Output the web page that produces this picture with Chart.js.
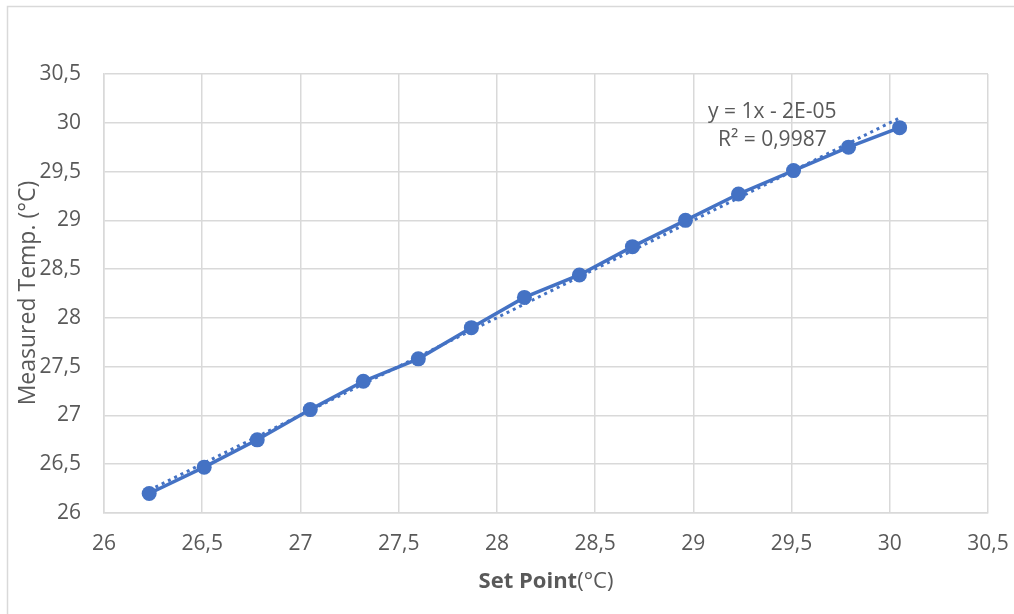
<!DOCTYPE html>
<html>
<head>
<meta charset="utf-8">
<script src="https://cdn.jsdelivr.net/npm/chart.js@4.4.1/dist/chart.umd.min.js"></script>
<style>
  html, body { margin: 0; padding: 0; background: #fff; }
  #wrap { width: 1014px; height: 614px; position: relative; }
</style>
</head>
<body>
<div id="wrap"><canvas id="myChart"></canvas></div>
<script>
// values
var setPoint = [26.23, 26.51, 26.78, 27.05, 27.32, 27.60, 27.87, 28.14, 28.42, 28.69, 28.96, 29.23, 29.51, 29.79, 30.05];
var measured = [26.20, 26.47, 26.75, 27.06, 27.35, 27.58, 27.90, 28.21, 28.44, 28.73, 29.00, 29.27, 29.51, 29.75, 29.95];
var xTickLabels = ['26', '26,5', '27', '27,5', '28', '28,5', '29', '29,5', '30', '30,5'];
var yTickLabels = ['26', '26,5', '27', '27,5', '28', '28,5', '29', '29,5', '30', '30,5'];
var trendText = ['y = 1x - 2E-05', 'R\u00b2 = 0,9987'];

var blue = '#4472C4';
var textCol = '#595959';
var gridCol = '#d9d9d9';
var font = "'Open Sans', sans-serif";

// linear trend line from the data (least squares)
function trend(xs, ys) {
  var n = xs.length, sx = 0, sy = 0, sxy = 0, sxx = 0;
  for (var i = 0; i < n; i++) { sx += xs[i]; sy += ys[i]; sxy += xs[i] * ys[i]; sxx += xs[i] * xs[i]; }
  var m = (n * sxy - sx * sy) / (n * sxx - sx * sx);
  var b = (sy - m * sx) / n;
  var x0 = Math.min.apply(null, xs), x1 = Math.max.apply(null, xs);
  return [{x: x0, y: m * x0 + b}, {x: x1, y: m * x1 + b}];
}

var points = setPoint.map(function(v, i) { return {x: v, y: measured[i]}; });

var extras = {
  id: 'extras',
  beforeDraw: function(chart) {
    var c = chart.ctx;
    c.save();
    c.strokeStyle = gridCol;
    c.lineWidth = 1.5;
    c.strokeRect(7.5, 6.5, 1020, 620);
    c.restore();
  },
  afterDraw: function(chart) {
    var c = chart.ctx, a = chart.chartArea;
    c.save();
    c.fillStyle = textCol;
    // y axis title
    c.translate(28, 293);
    c.rotate(-Math.PI / 2);
    c.textAlign = 'center';
    c.textBaseline = 'middle';
    c.font = "23px " + font;
    c.fillText('Measured Temp. (\u00b0C)', 0, 0);
    c.restore();

    // x axis title: bold part + normal part
    c.save();
    c.fillStyle = textCol;
    c.textBaseline = 'middle';
    var bold = 'Set Point', rest = '(\u00b0C)';
    c.font = "bold 22px " + font;
    var w1 = c.measureText(bold).width;
    c.font = "22px " + font;
    var w2 = c.measureText(rest).width;
    var cx = (a.left + a.right) / 2;
    var sx = cx - (w1 + w2) / 2;
    c.font = "bold 22px " + font;
    c.fillText(bold, sx, 582);
    c.font = "22px " + font;
    c.fillText(rest, sx + w1, 582);

    // trend label
    c.font = "21px " + font;
    c.fillText(trendText[0], 708, 112);
    c.fillText(trendText[1], 718, 140);
    c.restore();
  }
};

var ctx = document.getElementById('myChart').getContext('2d');
var chart = new Chart(ctx, {
  type: 'scatter',
  data: {
    datasets: [{
      label: 'Measured',
      data: points,
      showLine: true,
      borderColor: blue,
      backgroundColor: blue,
      borderWidth: 3.5,
      pointRadius: 7.5,
      pointHoverRadius: 7.5,
      pointBorderWidth: 0,
      order: 2
    }, {
      label: 'Trend',
      data: trend(setPoint, measured),
      showLine: true,
      borderColor: blue,
      borderWidth: 3,
      borderDash: [3, 4],
      pointRadius: 0,
      order: 1
    }]
  },
  plugins: [extras],
  options: {
    responsive: true,
    maintainAspectRatio: false,
    animation: false,
    layout: { padding: { top: 74, right: 26, left: 0, bottom: 0 } },
    plugins: {
      legend: { display: false },
      tooltip: { enabled: false }
    },
    scales: {
      x: {
        type: 'linear',
        min: 26, max: 30.5,
        afterFit: function(s) { s.height = 101; s.paddingLeft = 0; s.paddingRight = 0; },
        ticks: {
          stepSize: 0.5,
          color: textCol,
          font: { family: font, size: 21 },
          padding: 18,
          maxRotation: 0,
          callback: function(v, i) { return xTickLabels[i]; }
        },
        grid: { color: gridCol, lineWidth: 1.5, drawTicks: false },
        border: { color: gridCol, width: 1.5 }
      },
      y: {
        type: 'linear',
        min: 26, max: 30.5,
        afterFit: function(s) { s.width = 104; s.paddingTop = 0; s.paddingBottom = 0; },
        ticks: {
          stepSize: 0.5,
          color: textCol,
          font: { family: font, size: 21 },
          padding: 23,
          callback: function(v, i) { return yTickLabels[i]; }
        },
        grid: { color: gridCol, lineWidth: 1.5, drawTicks: false },
        border: { color: gridCol, width: 1.5 }
      }
    }
  }
});
</script>
</body>
</html>
